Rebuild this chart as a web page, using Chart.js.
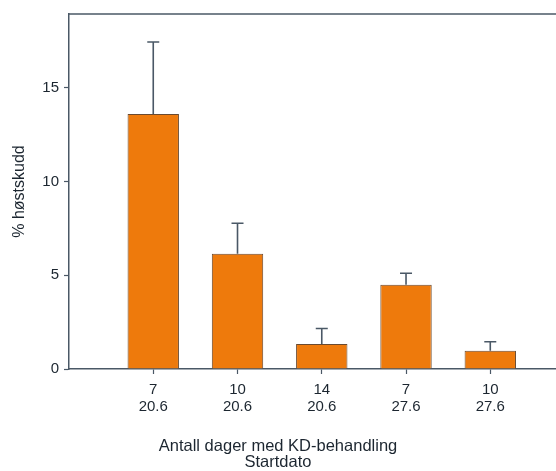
<!DOCTYPE html>
<html>
<head>
<meta charset="utf-8">
<script src="https://cdn.jsdelivr.net/npm/chart.js@4"></script>
<style>
  body { margin: 0; background: #fff; }
  canvas { display: block; }
</style>
</head>
<body>
<canvas id="chart" width="556" height="471"></canvas>
<script>
// dager med KD-behandling / startdato
const days = ["7", "10", "14", "7", "10"];
const startDates = ["20.6", "20.6", "20.6", "27.6", "27.6"];
const percent = [13.6, 6.15, 1.33, 4.5, 0.97];
const errUpper = [17.45, 7.78, 2.16, 5.11, 1.45];

const ink = "#1c2630";
const axisCol = "#4a5866";

// error bars (upper only), drawn from the y scale
const errorBars = {
  id: "errorBars",
  afterDatasetsDraw(chart) {
    const ctx = chart.ctx;
    const y = chart.scales.y;
    const bars = chart.getDatasetMeta(0).data;
    ctx.save();
    ctx.strokeStyle = axisCol;
    ctx.lineWidth = 1.6;
    bars.forEach((bar, i) => {
      const yTop = y.getPixelForValue(errUpper[i]);
      ctx.beginPath();
      ctx.moveTo(bar.x, bar.y);
      ctx.lineTo(bar.x, yTop);
      ctx.moveTo(bar.x - 6, yTop);
      ctx.lineTo(bar.x + 6, yTop);
      ctx.stroke();
    });
    ctx.restore();
  }
};

// top frame line
const topFrame = {
  id: "topFrame",
  afterDraw(chart) {
    const { ctx, chartArea } = chart;
    ctx.save();
    ctx.strokeStyle = axisCol;
    ctx.lineWidth = 1.5;
    ctx.beginPath();
    ctx.moveTo(chartArea.left, chartArea.top);
    ctx.lineTo(chartArea.right, chartArea.top);
    ctx.stroke();
    ctx.restore();
  }
};

new Chart(document.getElementById("chart"), {
  type: "bar",
  data: {
    datasets: [{
      data: percent.map((v, i) => ({ x: i + 1, y: v })),
      backgroundColor: "#ee7a0c",
      borderColor: "#6a4a30",
      borderWidth: 1,
      categoryPercentage: 1,
      barPercentage: 0.61
    }]
  },
  options: {
    responsive: false,
    animation: false,
    layout: { padding: { top: 12, left: 0, right: 0, bottom: 0 } },
    plugins: {
      legend: { display: false },
      tooltip: { enabled: false },
      title: {
        display: true,
        position: "bottom",
        text: ["Antall dager med KD-behandling", "Startdato"],
        color: ink,
        font: { family: "Liberation Sans, Arial, sans-serif", size: 16.5, weight: "normal", lineHeight: "15.5px" },
        padding: { top: 0, bottom: 1 }
      }
    },
    scales: {
      x: {
        type: "linear",
        min: 0,
        max: 5.78,
        offset: false,
        afterBuildTicks: s => { s.ticks = days.map((d, i) => ({ value: i + 1 })); },
        afterFit: s => { s.height = 70; },
        grid: { offset: false, drawOnChartArea: false, color: axisCol, tickLength: 5, tickWidth: 1.2 },
        border: { color: axisCol, width: 1.5 },
        ticks: {
          autoSkip: false,
          maxRotation: 0,
          padding: 7,
          color: ink,
          font: { family: "Liberation Sans, Arial, sans-serif", size: 15, lineHeight: "17px" },
          callback: v => [days[v - 1], startDates[v - 1]]
        }
      },
      y: {
        min: 0,
        max: 18.94,
        afterFit: s => { s.width = 69; },
        grid: { drawOnChartArea: false, color: axisCol, tickLength: 5, tickWidth: 1.2 },
        border: { color: axisCol, width: 1.5 },
        ticks: {
          stepSize: 5,
          includeBounds: false,
          padding: 5,
          color: ink,
          font: { family: "Liberation Sans, Arial, sans-serif", size: 15 }
        },
        title: {
          display: true,
          text: "% høstskudd",
          color: ink,
          font: { family: "Liberation Sans, Arial, sans-serif", size: 16 },
          padding: { top: 10, bottom: 0 }
        }
      }
    }
  },
  plugins: [errorBars, topFrame]
});
</script>
</body>
</html>
